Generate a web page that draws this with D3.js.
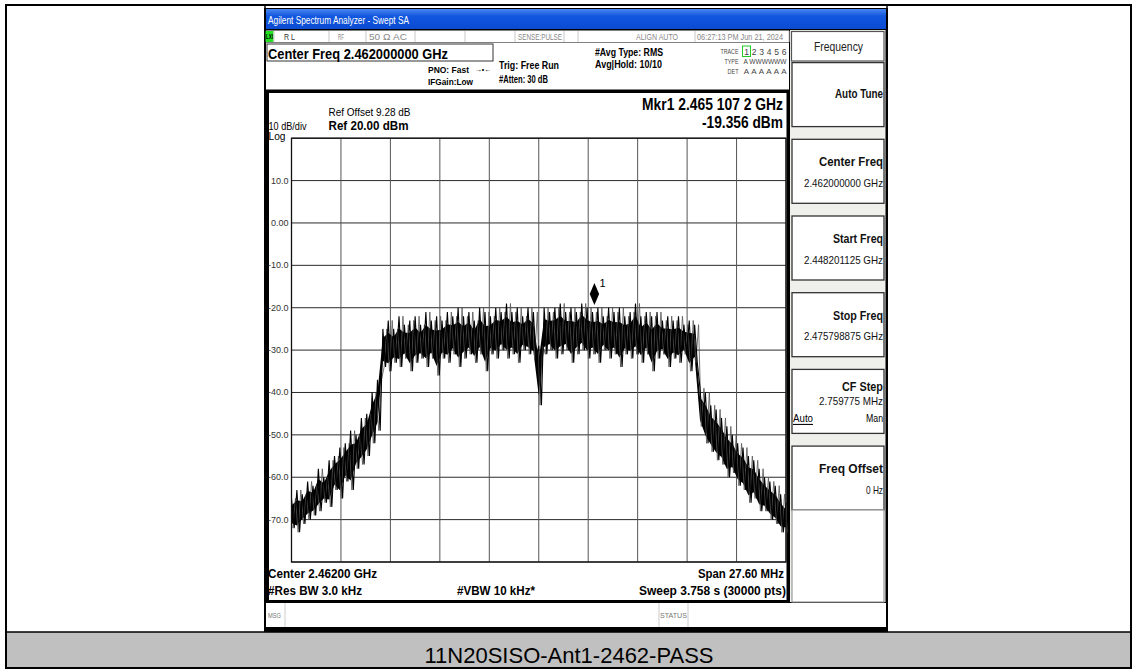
<!DOCTYPE html>
<html>
<head>
<meta charset="utf-8">
<script src="https://cdn.jsdelivr.net/npm/d3@7"></script>
<style>
  body { margin: 0; background: #fff; }
  svg text { font-family: "Liberation Sans Narrow", "Arial Narrow", "Liberation Sans", Arial, sans-serif; }
</style>
</head>
<body>
<div id="vis"></div>
<script>
// sweep: offset from centre (MHz), trace envelope (dBm)
const FREQ_OFFSETS = [-13.8,-13.5,-13.2,-12.9,-12.6,-12.3,-12.0,-11.7,-11.4,-11.1,-10.8,-10.5,-10.2,-9.9,-9.6,-9.3,-9.0,
  -8.7,-8.4,-8.1,-7.8,-7.5,-7.2,-6.9,-6.6,-6.3,-6.0,-5.7,-5.4,-5.1,-4.8,-4.5,-4.2,-3.9,-3.6,-3.3,-3.0,-2.7,-2.4,-2.1,-1.8,-1.5,-1.2,-0.9,-0.6,-0.3,
  0.0,
  0.3,0.6,0.9,1.2,1.5,1.8,2.1,2.4,2.7,3.0,3.3,3.6,3.9,4.2,4.5,4.8,5.1,5.4,5.7,6.0,6.3,6.6,6.9,7.2,7.5,7.8,8.1,8.4,8.7,
  9.0,9.3,9.6,9.9,10.2,10.5,10.8,11.1,11.4,11.7,12.0,12.3,12.6,12.9,13.2,13.5,13.8];

const TRACE_HI = [-65,-63,-64,-61,-62,-58,-60,-56,-55,-53,-52,-49,-50,-46,-45,-40,-37,
  -25,-23,-25,-22,-24,-23,-22,-24,-21,-23,-22,-23,-21,-22,-20,-22,-21,-23,-20,-21,-22,-20,-21,-19,-21,-20,-22,-20,-21,
  -29,
  -20,-21,-20,-19,-21,-20,-21,-19,-20,-21,-20,-22,-20,-21,-20,-22,-21,-19,-22,-21,-22,-21,-23,-22,-23,-22,-24,-23,-24,
  -39,-40,-43,-44,-46,-48,-50,-52,-53,-55,-56,-58,-60,-61,-62,-64,-66];

const TRACE_LO = [-72,-73,-71,-70,-69,-68,-66,-67,-63,-65,-61,-63,-58,-57,-55,-52,-49,
  -34,-35,-33,-34,-32,-35,-33,-32,-34,-32,-36,-32,-33,-31,-34,-32,-31,-33,-31,-35,-31,-32,-30,-32,-31,-33,-30,-31,-32,
  -43,
  -31,-30,-32,-31,-30,-33,-31,-30,-32,-31,-33,-30,-32,-31,-34,-31,-32,-31,-33,-31,-35,-32,-31,-34,-32,-33,-31,-35,-33,
  -48,-52,-54,-56,-57,-60,-59,-62,-63,-66,-65,-68,-68,-70,-71,-73,-73];

const Y_TICK_VALUES = [10, 0, -10, -20, -30, -40, -50, -60, -70];
const Y_TICK_LABELS = ["10.0", "0.00", "-10.0", "-20.0", "-30.0", "-40.0", "-50.0", "-60.0", "-70.0"];

const MARKER_OFFSET = 3.1072;   // 2.465 107 2 GHz - 2.462 GHz
const MARKER_LEVEL = -19.356;

const SOFTKEY_TITLES = ["Auto Tune", "Center Freq", "Start Freq", "Stop Freq", "CF Step", "Freq Offset"];
const SOFTKEY_VALUES = ["", "2.462000000 GHz", "2.448201125 GHz", "2.475798875 GHz", "2.759775 MHz", "0 Hz"];

const STATUS_CELLS = ["R L", "RF", "50 \u03a9   AC", "SENSE:PULSE", "ALIGN AUTO", "06:27:13 PM Jun 21, 2024"];
const STATUS_X = [284, 338, 369, 518, 636, 697];
const STATUS_LEN = [11, 6, 38, 44, 42, 86];
const STATUS_EDGES = [274, 329, 366, 415, 465, 515, 564, 578, 695, 789];

const TRACE_NUMS = ["1", "2", "3", "4", "5", "6"];

const W = 1137, H = 672;

const svg = d3.select("#vis").append("svg").attr("width", W).attr("height", H);

// ---- outer table ----
svg.append("rect").attr("x", 6).attr("y", 5).attr("width", 1125).attr("height", 663)
  .attr("fill", "#fff").attr("stroke", "#000").attr("stroke-width", 2);
svg.append("rect").attr("x", 7).attr("y", 632).attr("width", 1123).attr("height", 35).attr("fill", "#c0c0c0");
svg.append("line").attr("x1", 6).attr("x2", 1131).attr("y1", 632).attr("y2", 632).attr("stroke", "#000").attr("stroke-width", 1.5);
[265, 887].forEach(x => svg.append("line").attr("x1", x).attr("x2", x).attr("y1", 5).attr("y2", 632)
  .attr("stroke", "#000").attr("stroke-width", 1.5));

svg.append("text").attr("x", 569).attr("y", 655).attr("text-anchor", "middle").attr("dominant-baseline", "central")
  .style("font-family", "'Liberation Sans', Arial, sans-serif").style("font-size", "22px").attr("fill", "#000")
  .text("11N20SISO-Ant1-2462-PASS");

// ---- analyzer screen ----
const scr = svg.append("g");
scr.append("rect").attr("x", 264).attr("y", 8).attr("width", 624).attr("height", 624).attr("fill", "#000");

const defs = svg.append("defs");
const grad = defs.append("linearGradient").attr("id", "titlebar").attr("x1", 0).attr("x2", 0).attr("y1", 0).attr("y2", 1);
grad.append("stop").attr("offset", "0%").attr("stop-color", "#4a86f0");
grad.append("stop").attr("offset", "35%").attr("stop-color", "#1257df");
grad.append("stop").attr("offset", "100%").attr("stop-color", "#0a4bd2");
scr.append("rect").attr("x", 266).attr("y", 9).attr("width", 620).attr("height", 20).attr("fill", "url(#titlebar)");

// the analyzer uses a condensed face; squeeze each text to the width it has on screen
function txt(g, x, y, s, o = {}) {
  const t = g.append("text").attr("x", x).attr("y", y)
    .attr("text-anchor", o.anchor || "start").attr("dominant-baseline", "central")
    .style("font-size", (o.size || 10) + "px").style("font-weight", o.weight || "normal")
    .attr("fill", o.fill || "#000").text(s);
  if (o.len) t.attr("textLength", o.len).attr("lengthAdjust", "spacingAndGlyphs");
  return t;
}

txt(scr, 268, 19.5, "Agilent Spectrum Analyzer - Swept SA", { size: 10.5, fill: "#fff", len: 141 });

// status bar
scr.append("rect").attr("x", 266).attr("y", 30.5).attr("width", 523).attr("height", 12).attr("fill", "#fff");
scr.append("rect").attr("x", 265.5).attr("y", 31).attr("width", 8).attr("height", 11).attr("fill", "#22e022");
txt(scr, 266, 36.5, "LXI", { size: 6.5, weight: "bold", len: 7 });
STATUS_EDGES.forEach(x => scr.append("line").attr("x1", x).attr("x2", x).attr("y1", 31).attr("y2", 42)
  .attr("stroke", "#c8c8c8"));
STATUS_CELLS.forEach((s, i) => txt(scr, STATUS_X[i], 36.5, s,
  { size: 8.5, fill: i === 0 ? "#333" : "#888", len: STATUS_LEN[i] }));

// header block
scr.append("rect").attr("x", 266).attr("y", 43).attr("width", 523).attr("height", 46.5).attr("fill", "#fff");
scr.append("rect").attr("x", 267).attr("y", 44).attr("width", 226).attr("height", 17)
  .attr("fill", "#fff").attr("stroke", "#333").attr("stroke-width", 1);
txt(scr, 268, 53, "Center Freq 2.462000000 GHz", { size: 15, weight: "bold", len: 180 });
txt(scr, 428, 69, "PNO: Fast", { size: 9.5, weight: "bold", len: 41 });
txt(scr, 475, 69, "\u2192\u2022\u2190", { size: 8, weight: "bold", len: 16 });
txt(scr, 428, 81.5, "IFGain:Low", { size: 9.5, weight: "bold", len: 45 });
txt(scr, 499, 65, "Trig: Free Run", { size: 11, weight: "bold", len: 60 });
txt(scr, 499, 79, "#Atten: 30 dB", { size: 10.5, weight: "bold", len: 49 });
txt(scr, 595, 51.5, "#Avg Type: RMS", { size: 11, weight: "bold", len: 68 });
txt(scr, 595, 63.5, "Avg|Hold: 10/10", { size: 11, weight: "bold", len: 67 });

txt(scr, 738.5, 51, "TRACE", { size: 7, anchor: "end", fill: "#444", len: 18 });
txt(scr, 738.5, 61, "TYPE", { size: 7, anchor: "end", fill: "#444", len: 14 });
txt(scr, 738.5, 71, "DET", { size: 7, anchor: "end", fill: "#444", len: 11 });
scr.append("rect").attr("x", 742.5).attr("y", 46).attr("width", 8).attr("height", 10.5).attr("fill", "none")
  .attr("stroke", "#22cc22").attr("stroke-width", 1);
TRACE_NUMS.forEach((d, i) => txt(scr, 746.5 + i * 7.5, 51.5, d, { size: 8.5, anchor: "middle", fill: "#444" }));
txt(scr, 743.5, 61.5, "A WWWWWW", { size: 7.5, fill: "#444", len: 43 });
TRACE_NUMS.forEach((d, i) => txt(scr, 746.5 + i * 7.5, 71, "A", { size: 8, anchor: "middle", fill: "#444" }));

// right softkey panel
scr.append("rect").attr("x", 790).attr("y", 30).attr("width", 95.5).attr("height", 572).attr("fill", "#efefec");
scr.append("rect").attr("x", 791.5).attr("y", 31.5).attr("width", 92.5).attr("height", 29.5)
  .attr("fill", "#fff").attr("stroke", "#555").attr("stroke-width", 1.2);
txt(scr, 838.5, 46.5, "Frequency", { size: 12.5, anchor: "middle", fill: "#222", len: 49 });

const keyTop = d3.scaleLinear().domain([0, 1]).range([62.6, 139.3]);
const TITLE_LEN = [48, 64, 50, 50, 41, 64];
const VALUE_LEN = [0, 79, 79, 79, 64, 17];
const keys = scr.append("g").selectAll("g").data(SOFTKEY_TITLES).join("g")
  .attr("transform", (d, i) => `translate(0,${keyTop(i)})`);
keys.append("rect").attr("x", 792).attr("y", 0).attr("width", 92).attr("height", 64)
  .attr("fill", "#fff").attr("stroke", "#333").attr("stroke-width", 1.3);
keys.each(function (d, i) {
  const k = d3.select(this);
  txt(k, 883, i === 0 ? 31 : (i === 4 ? 17.5 : 23), d, { size: 12.5, weight: "bold", anchor: "end", fill: "#111", len: TITLE_LEN[i] });
  if (SOFTKEY_VALUES[i]) txt(k, 883, i === 4 ? 32 : 43.5, SOFTKEY_VALUES[i], { size: 10.5, anchor: "end", fill: "#111", len: VALUE_LEN[i] });
  if (i === 4) {
    txt(k, 793, 48.5, "Auto", { size: 10.5, len: 20 }).attr("text-decoration", "underline");
    txt(k, 883, 48.5, "Man", { size: 10.5, anchor: "end", len: 17 });
  }
});
scr.append("rect").attr("x", 792).attr("y", 510).attr("width", 92).attr("height", 92)
  .attr("fill", "#fff").attr("stroke", "#999").attr("stroke-width", 1.2);

// graph panel
scr.append("rect").attr("x", 269).attr("y", 93).attr("width", 517.5).attr("height", 507).attr("fill", "#fff");

const x = d3.scaleLinear().domain([-13.8, 13.8]).range([291.5, 786]);
const y = d3.scaleLinear().domain([-80, 20]).range([562, 138.2]);
const xDiv = d3.scaleLinear().domain([0, 10]).range(x.range());

const grid = scr.append("g");
grid.selectAll(".hg").data(y.ticks(10)).join("line").attr("class", "hg")
  .attr("x1", x.range()[0]).attr("x2", x.range()[1]).attr("y1", d => y(d)).attr("y2", d => y(d))
  .attr("stroke", "#2a2a2a").attr("stroke-width", 1);
grid.selectAll(".vg").data(d3.range(11)).join("line").attr("class", "vg")
  .attr("x1", d => xDiv(d)).attr("x2", d => xDiv(d)).attr("y1", y(20)).attr("y2", y(-80))
  .attr("stroke", "#555").attr("stroke-width", 1);

grid.selectAll(".yl").data(Y_TICK_VALUES).join("text").attr("class", "yl")
  .attr("x", 288.5).attr("y", d => y(d)).attr("text-anchor", "end").attr("dominant-baseline", "central")
  .style("font-size", "9px").attr("fill", "#333").text((d, i) => Y_TICK_LABELS[i]);

// annotations
txt(scr, 328.5, 111.5, "Ref Offset 9.28 dB", { size: 10.5, len: 82 });
txt(scr, 328.5, 125, "Ref 20.00 dBm", { size: 13, weight: "bold", len: 80 });
txt(scr, 268.5, 125.5, "10 dB/div", { size: 10.5, len: 38 });
txt(scr, 268.5, 135.5, "Log", { size: 10.5, len: 17 });
txt(scr, 783, 103.5, "Mkr1 2.465 107 2 GHz", { size: 16.5, weight: "bold", anchor: "end", len: 141 });
txt(scr, 783, 122, "-19.356 dBm", { size: 16.5, weight: "bold", anchor: "end", len: 81 });

txt(scr, 268, 573.5, "Center 2.46200 GHz", { size: 12, weight: "bold", len: 109 });
txt(scr, 268, 590.5, "#Res BW 3.0 kHz", { size: 12, weight: "bold", len: 94 });
txt(scr, 457, 590.5, "#VBW 10 kHz*", { size: 12, weight: "bold", len: 78 });
txt(scr, 784, 573.5, "Span 27.60 MHz", { size: 12, weight: "bold", anchor: "end", len: 86 });
txt(scr, 786, 590.5, "Sweep  3.758 s (30000 pts)", { size: 12, weight: "bold", anchor: "end", len: 147 });

// trace: dense core plus zigzags between read peaks and troughs
const pts = FREQ_OFFSETS.map((f, i) => ({ f, hi: TRACE_HI[i], lo: TRACE_LO[i] }));
const traceG = scr.append("g");
traceG.append("path").datum(pts)
  .attr("d", d3.area().x(d => x(d.f))
    .y0(d => y(d.lo + (d.hi - d.lo) * 0.16))
    .y1(d => y(d.hi - (d.hi - d.lo) * 0.24)))
  .attr("fill", "#000");
const zigA = pts.flatMap(d => [[d.f, d.hi], [d.f + 0.15, d.lo]]).filter(d => d[0] <= 13.8);
const zigB = pts.flatMap(d => [[d.f, d.lo], [d.f + 0.15, d.hi]]).filter(d => d[0] <= 13.8);
traceG.append("path").datum(zigB)
  .attr("d", d3.line().x(d => x(d[0] + 0.07)).y(d => y(d[1])))
  .attr("fill", "none").attr("stroke", "#555").attr("stroke-width", 0.8);
traceG.append("path").datum(zigA)
  .attr("d", d3.line().x(d => x(d[0])).y(d => y(d[1])))
  .attr("fill", "none").attr("stroke", "#000").attr("stroke-width", 1.1);

// marker
const mx = x(MARKER_OFFSET), my = y(MARKER_LEVEL);
scr.append("path").attr("transform", `translate(${mx},${my - 11})`)
  .attr("d", "M0,-11L4.7,0L0,11L-4.7,0Z").attr("fill", "#000");
txt(scr, mx + 5, my - 22, "1", { size: 11 });

// frame of the grid
scr.append("rect").attr("x", x.range()[0]).attr("y", y(20)).attr("width", x.range()[1] - x.range()[0])
  .attr("height", y(-80) - y(20)).attr("fill", "none").attr("stroke", "#111").attr("stroke-width", 1.3);

// message row
scr.append("rect").attr("x", 266).attr("y", 603).attr("width", 620).attr("height", 24).attr("fill", "#fff");
[285, 659, 688].forEach(xx => scr.append("line").attr("x1", xx).attr("x2", xx).attr("y1", 603).attr("y2", 627)
  .attr("stroke", "#ccc"));
txt(scr, 268, 615, "MSG", { size: 7, fill: "#777", len: 13 });
txt(scr, 673.5, 615, "STATUS", { size: 7, fill: "#777", anchor: "middle", len: 27 });
</script>
</body>
</html>
